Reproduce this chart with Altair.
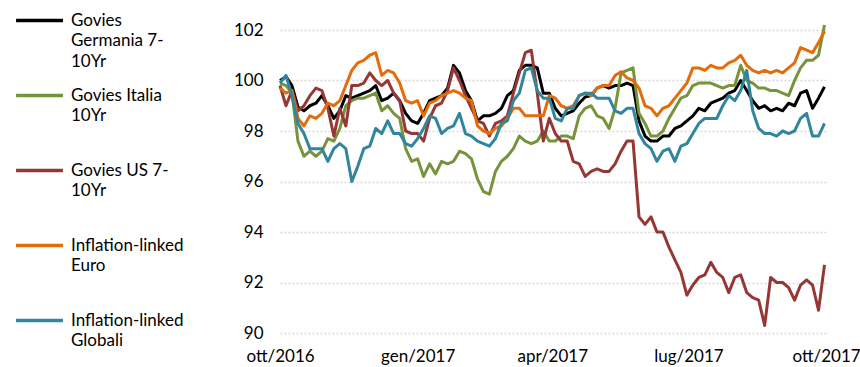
import json

import altair as alt
import pandas as pd

# Observations every four days, index rebased to 100 at the start of the period
dates = pd.date_range("2016-10-01", periods=92, freq="4D").strftime("%Y-%m-%d").tolist()

germania = [100.0, 100.15, 99.8, 98.95, 98.8, 99.0, 99.1, 99.4, 99.0, 98.5, 98.8, 99.4, 99.3,
            99.4, 99.5, 99.6, 99.8, 99.2, 99.3, 99.5, 99.2, 98.7, 98.4, 98.3, 98.7, 99.2,
            99.3, 99.4, 99.7, 100.6, 100.3, 99.6, 99.2, 98.4, 98.6, 98.6, 98.7, 98.9, 99.4,
            99.6, 100.4, 100.6, 100.6, 100.5, 99.5, 99.5, 98.9, 98.6, 98.7, 98.8, 99.1, 99.35,
            99.4, 99.7, 99.8, 99.7, 99.8, 99.8, 99.9, 99.8, 98.4, 97.8, 97.6, 97.6, 97.8,
            97.8, 98.1, 98.2, 98.4, 98.6, 98.9, 98.8, 99.1, 99.2, 99.3, 99.5, 99.6, 100.0,
            99.6, 99.2, 98.9, 99.0, 98.8, 98.9, 98.8, 99.1, 99.0, 99.5, 99.6, 98.9, 99.3, 99.75]

italia = [99.9, 99.8, 99.5, 97.6, 97.0, 97.2, 97.0, 97.2, 97.7, 97.6, 98.1, 99.0, 99.2,
          99.3, 99.3, 99.4, 99.5, 98.8, 99.0, 98.7, 98.5, 97.3, 96.8, 96.9, 96.2, 96.7,
          96.3, 96.8, 96.7, 96.8, 97.2, 97.1, 96.9, 96.1, 95.6, 95.5, 96.4, 96.8, 97.0,
          97.3, 97.8, 97.6, 97.5, 97.6, 98.0, 97.6, 97.6, 97.8, 97.8, 97.7, 98.6, 98.9,
          99.0, 98.6, 98.5, 98.1, 98.9, 100.3, 100.4, 100.5, 98.7, 98.3, 97.8, 97.8, 98.0,
          98.5, 98.9, 99.3, 99.4, 99.8, 99.9, 99.9, 99.9, 99.8, 99.7, 99.8, 99.8, 100.6,
          100.0, 99.9, 99.7, 99.7, 99.6, 99.6, 99.5, 99.4, 100.0, 100.5, 100.8, 100.8, 101.0, 102.2]

us = [99.8, 99.0, 99.6, 98.8, 99.0, 99.4, 99.7, 99.6, 98.9, 97.8, 98.9, 98.2, 99.8,
      99.8, 99.9, 100.3, 100.0, 99.8, 100.0, 99.5, 99.2, 98.0, 97.9, 97.9, 97.6, 98.5,
      99.0, 99.1, 99.6, 100.5, 100.0, 99.4, 98.9, 98.4, 98.3, 97.8, 98.3, 98.4, 98.6,
      99.5, 100.3, 101.1, 101.2, 99.5, 97.6, 98.5, 97.9, 97.6, 97.6, 96.8, 96.7, 96.2,
      96.4, 96.5, 96.4, 96.4, 96.7, 97.2, 97.6, 97.6, 94.6, 94.3, 94.6, 94.0, 94.0,
      93.4, 92.9, 92.4, 91.5, 91.9, 92.2, 92.3, 92.8, 92.4, 92.2, 91.6, 92.2, 92.3,
      91.6, 91.4, 91.3, 90.3, 92.2, 92.0, 92.0, 91.8, 91.3, 91.9, 92.1, 91.9, 90.9, 92.7]

euro_il = [99.7, 99.5, 99.6, 98.5, 98.2, 98.6, 98.5, 98.7, 99.1, 99.0, 99.2, 99.8, 100.4,
           100.7, 100.8, 101.0, 101.1, 100.2, 100.4, 100.3, 99.9, 99.2, 99.1, 99.2, 98.6, 99.1,
           99.2, 99.4, 99.5, 99.6, 99.5, 99.3, 99.2, 98.2, 98.0, 97.9, 98.1, 98.2, 98.5,
           98.9, 98.9, 98.6, 98.6, 98.6, 98.6, 99.4, 99.3, 99.0, 98.9, 99.0, 99.4, 99.5,
           99.4, 99.7, 99.8, 99.8, 100.2, 100.35, 100.1, 100.0, 99.7, 99.0, 98.9, 98.6, 98.9,
           99.0, 99.3, 99.6, 99.9, 100.5, 100.5, 100.4, 100.6, 100.5, 100.5, 100.7, 100.8, 101.0,
           100.6, 100.4, 100.3, 100.4, 100.3, 100.4, 100.3, 100.5, 100.7, 101.3, 101.2, 101.1, 101.5, 101.95]

global_il = [99.9, 100.2, 99.4, 98.3, 97.9, 97.3, 97.3, 97.3, 96.8, 97.3, 97.5, 97.3, 96.0,
             96.6, 97.3, 97.4, 98.1, 97.9, 98.4, 97.9, 97.9, 97.5, 97.4, 97.7, 98.1, 98.6,
             98.5, 97.9, 98.1, 98.2, 98.7, 97.9, 97.8, 97.6, 97.5, 97.4, 97.7, 98.3, 98.4,
             99.2, 99.5, 100.4, 100.5, 99.6, 99.3, 99.3, 98.5, 98.4, 98.9, 98.9, 99.4, 99.5,
             99.5, 99.3, 99.3, 99.3, 98.8, 98.7, 98.9, 98.9, 97.9, 97.5, 97.3, 96.8, 97.2,
             97.3, 96.8, 97.4, 97.5, 97.9, 98.3, 98.5, 98.5, 98.5, 99.0, 99.4, 99.2, 99.6,
             100.4, 98.8, 98.1, 97.9, 97.9, 97.8, 98.0, 97.9, 98.0, 98.5, 98.7, 97.8, 97.8, 98.3]

series_names = ["Govies Germania 7-10Yr", "Govies Italia 10Yr", "Govies US 7-10Yr",
                "Inflation-linked Euro", "Inflation-linked Globali"]
series_values = [germania, italia, us, euro_il, global_il]
series_colors = ["#000000", "#77933C", "#953735", "#E46C0A", "#31859C"]

# Wrapped legend text, one list of lines per series
legend_lines = {
    "Govies Germania 7-10Yr": ["Govies", "Germania 7-", "10Yr"],
    "Govies Italia 10Yr": ["Govies Italia", "10Yr"],
    "Govies US 7-10Yr": ["Govies US 7-", "10Yr"],
    "Inflation-linked Euro": ["Inflation-linked", "Euro"],
    "Inflation-linked Globali": ["Inflation-linked", "Globali"],
}

month_abbr = ["gen", "feb", "mar", "apr", "mag", "giu", "lug", "ago", "set", "ott", "nov", "dic"]
y_ticks = [90, 92, 94, 96, 98, 100, 102]

rows = []
for name, values in zip(series_names, series_values):
    for d, v in zip(dates, values):
        rows.append({"date": d, "series": name, "value": v})
df = pd.DataFrame(rows)

FONT = "Lato"

x_ticks = [
    alt.DateTime(year=2016, month=10, date=1, utc=True),
    alt.DateTime(year=2017, month=1, date=1, utc=True),
    alt.DateTime(year=2017, month=4, date=1, utc=True),
    alt.DateTime(year=2017, month=7, date=1, utc=True),
    alt.DateTime(year=2017, month=10, date=1, utc=True),
]

x_label_expr = f"{json.dumps(month_abbr)}[utcmonth(datum.value)] + '/' + utcyear(datum.value)"
legend_label_expr = f"{json.dumps(legend_lines)}[datum.label]"

chart = alt.Chart(df).mark_line(strokeWidth=3, strokeJoin="round").encode(
    x=alt.X(
        "date:T",
        scale=alt.Scale(type="utc", domain=[x_ticks[0], x_ticks[-1]]),
        axis=alt.Axis(
            values=x_ticks, labelExpr=x_label_expr, title=None, grid=False, domain=False,
            ticks=False, labelPadding=15, labelFontSize=17, labelFont=FONT, labelColor="#000000",
            labelFlush=False, labelOverlap=False,
        ),
    ),
    y=alt.Y(
        "value:Q",
        scale=alt.Scale(domain=[90, 102], nice=False, zero=False),
        axis=alt.Axis(
            values=y_ticks, title=None, domain=False, ticks=False, labelPadding=17,
            labelFontSize=17, labelFont=FONT, labelColor="#000000",
            grid=True, gridColor="#d9d9d9", gridDash=[2, 2], gridWidth=1.5,
        ),
    ),
    color=alt.Color(
        "series:N",
        scale=alt.Scale(domain=series_names, range=series_colors),
        legend=alt.Legend(
            title=None, orient="none", legendX=-266, legendY=-35,
            symbolType="stroke", symbolSize=2200, symbolStrokeWidth=3.5,
            labelFontSize=17, labelFont=FONT, labelColor="#000000", labelOffset=6,
            labelLimit=300, rowPadding=0, gridAlign="all", labelExpr=legend_label_expr,
        ),
    ),
).properties(
    width=546,
    height=303,
    autosize=alt.AutoSizeParams(type="none"),
    padding={"left": 280, "top": 30, "right": 34, "bottom": 34},
    background="white",
).configure(
    style={"guide-label": {"lineHeight": 20.5}},
).configure_view(stroke=None)

chart.save("out.html", embed_options={"renderer": "svg", "actions": False})
